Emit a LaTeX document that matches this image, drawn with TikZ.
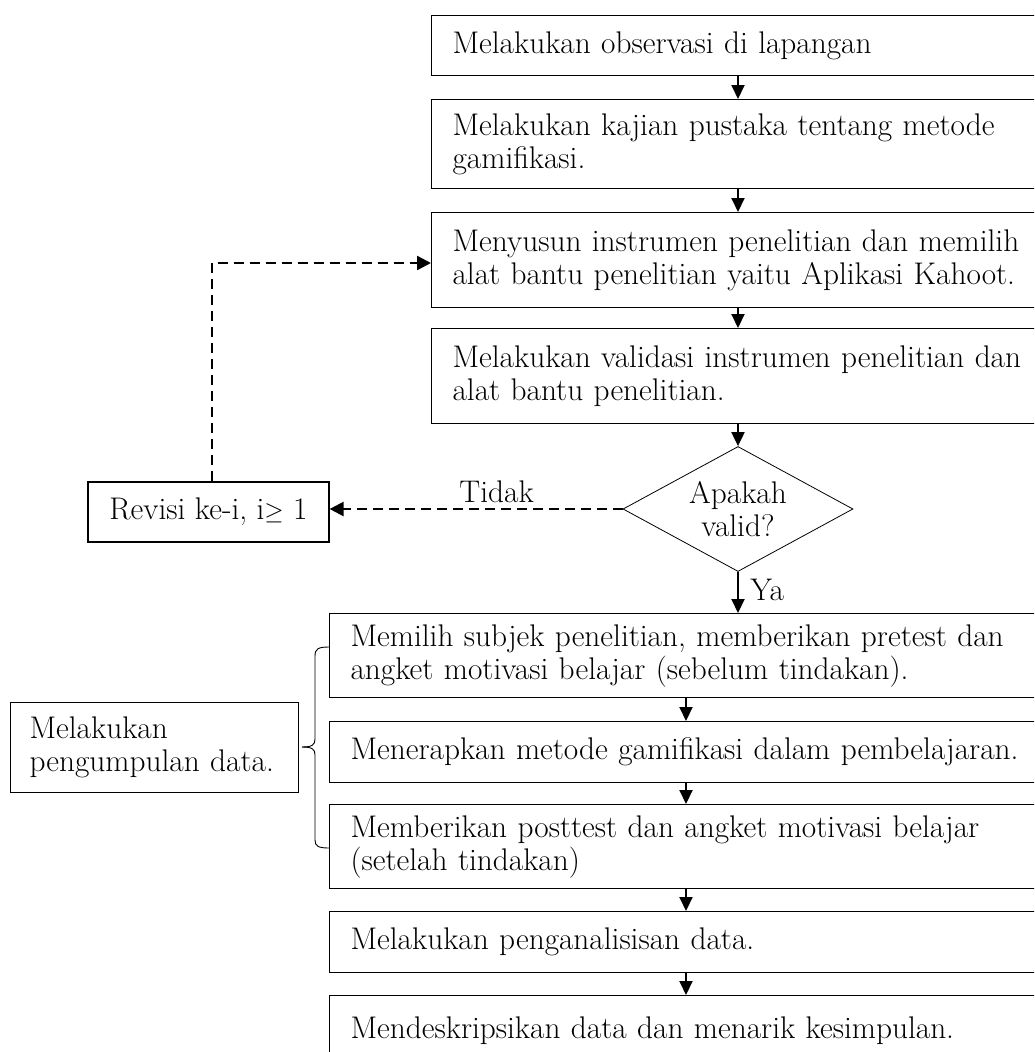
\documentclass[tikz,border=0pt]{standalone}
\usetikzlibrary{shapes.geometric,arrows.meta}
\begin{document}
\begin{tikzpicture}[x=1pt,y=-1pt,
  every node/.style={font=\fontsize{31.3}{33}\selectfont},
  ubox/.style={draw,line width=1.2pt,anchor=north west,text width=600pt,align=left,inner xsep=21pt,inner ysep=0pt},
  lbox/.style={draw,line width=1.2pt,anchor=north west,text width=700pt,align=left,inner xsep=21pt,inner ysep=0pt},
  arr/.style={line width=2pt,-{Triangle[length=14pt,width=13pt]}},
  darr/.style={line width=2.4pt,dash pattern=on 10pt off 6pt,-{Triangle[length=14pt,width=14pt]}}]
\clip (0,0) rectangle (1034,1052);
\fill[white] (0,0) rectangle (1034,1052);
% upper boxes
\node[ubox,minimum height=60pt] (b1) at (431,15) {Melakukan observasi di lapangan};
\node[ubox,minimum height=89pt] (b2) at (431,99) {Melakukan kajian pustaka tentang metode\\gamifikasi.};
\node[ubox,minimum height=95pt] (b3) at (431,212) {Menyusun instrumen penelitian dan memilih\\alat bantu penelitian yaitu Aplikasi Kahoot.};
\node[ubox,minimum height=95pt] (b4) at (431,328) {Melakukan validasi instrumen penelitian dan\\alat bantu penelitian.};
% decision
\node[draw,line width=0.8pt,diamond,inner sep=0pt,minimum width=230pt,minimum height=125pt] (dia) at (738,509) {};
\node[align=center,inner sep=0pt] (diatext) at (dia.center) {Apakah\\valid?};
% revision
\node[draw,line width=1.2pt,minimum width=241pt,minimum height=60pt,inner sep=0pt] (rev) at (208.5,512) {Revisi ke-i, i$\geq$ 1};
% lower boxes
\node[lbox,minimum height=84pt] (b5) at (329,613) {Memilih subjek penelitian, memberikan pretest dan\\angket motivasi belajar (sebelum tindakan).};
\node[lbox,minimum height=61pt] (b6) at (329,721) {Menerapkan metode gamifikasi dalam pembelajaran.};
\node[lbox,minimum height=84pt] (b7) at (329,804) {Memberikan posttest dan angket motivasi belajar\\(setelah tindakan)};
\node[lbox,minimum height=61pt] (b8) at (329,911) {Melakukan penganalisisan data.};
\node[lbox,minimum height=70pt] (b9) at (329,995) {Mendeskripsikan data dan menarik kesimpulan.};
% collection box
\node[draw,line width=1.2pt,anchor=north west,minimum width=286pt,minimum height=90pt,text width=250pt,inner xsep=19pt,inner ysep=0pt,align=left] (col) at (10,702) {Melakukan\\pengumpulan data.};
% columns
\coordinate (lc) at (686,0);
\coordinate (loopc) at (212,263);
% upper arrows
\draw[arr] (b1.south -| dia.center) -- (b2.north -| dia.center);
\draw[arr] (b2.south -| dia.center) -- (b3.north -| dia.center);
\draw[arr] (b3.south -| dia.center) -- (b4.north -| dia.center);
\draw[arr] (b4.south -| dia.center) -- (dia.north);
\draw[arr] (dia.south) -- node[right,xshift=8pt,pos=0.45] {Ya} (b5.north -| dia.center);
% lower arrows
\draw[arr] (b5.south -| lc) -- (b6.north -| lc);
\draw[arr] (b6.south -| lc) -- (b7.north -| lc);
\draw[arr] (b7.south -| lc) -- (b8.north -| lc);
\draw[arr] (b8.south -| lc) -- (b9.north -| lc);
% dashed loop
\draw[darr] (dia.west) -- node[above,pos=0.43,yshift=2pt] {Tidak} (rev.east |- dia.west);
\draw[darr] (rev.north -| loopc) -- (loopc) -- (loopc -| b3.west);
% brace
\coordinate (bt) at (329,647);
\coordinate (bb) at (329,848);
\coordinate (tip) at (302,747);
\draw[line width=0.9pt] (bt) .. controls (318,647) and (315,649) .. (315,656) -- (315,739) .. controls (315,745) and (312,747) .. (tip);
\draw[line width=0.9pt] (tip) .. controls (312,747) and (315,749) .. (315,755) -- (315,840) .. controls (315,846) and (318,848) .. (bb);
\end{tikzpicture}
\end{document}
